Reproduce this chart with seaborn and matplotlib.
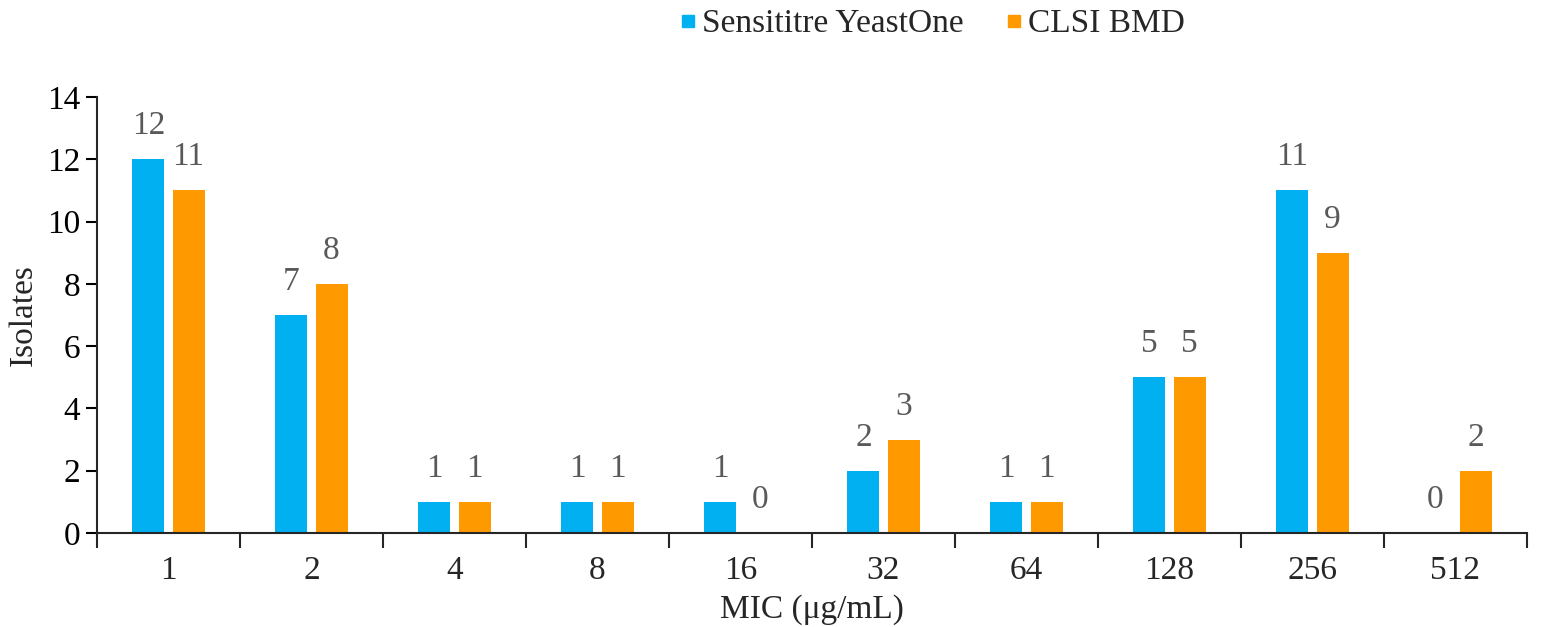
import numpy as np
import pandas as pd
import matplotlib
matplotlib.use("Agg")
import matplotlib.pyplot as plt
from matplotlib.lines import Line2D
from matplotlib.ticker import FixedLocator
import seaborn as sns

MIC = ["1", "2", "4", "8", "16", "32", "64", "128", "256", "512"]
SENSITITRE = [12, 7, 1, 1, 1, 2, 1, 5, 11, 0]
CLSI = [11, 8, 1, 1, 0, 3, 1, 5, 9, 2]
SERIES = ["Sensititre YeastOne", "CLSI BMD"]
COLORS = ["#00B0F0", "#FF9900"]

df = pd.DataFrame({
    "MIC": MIC * 2,
    "Isolates": SENSITITRE + CLSI,
    "Method": [SERIES[0]] * len(MIC) + [SERIES[1]] * len(MIC),
})

sns.set_style("ticks")
plt.rcParams["font.family"] = ["Liberation Serif", "DejaVu Serif"]

fig = plt.figure(figsize=(15.46, 6.27), dpi=100)
ax = fig.add_axes([97 / 1546, 1 - 533 / 627, 1430 / 1546, 436 / 627])

# bars: 32 px wide, 8 px apart inside a 143 px category
sns.barplot(data=df, x="MIC", y="Isolates", hue="Method", order=MIC,
            hue_order=SERIES, palette=COLORS, width=0.56, gap=0.2,
            saturation=1, linewidth=0, legend=False, ax=ax)

for cont in ax.containers:
    for bar in cont:
        h = bar.get_height()
        ax.annotate(f"{int(h)}", (bar.get_x() + bar.get_width() / 2, h),
                    xytext=(0, 18), textcoords="offset points",
                    ha="center", va="baseline", fontsize=24, color="#595959")

ax.set_xlim(-0.5, len(MIC) - 0.5)
ax.set_ylim(0, 14)
ax.set_yticks(range(0, 15, 2))
ax.tick_params(axis="y", labelsize=24, length=8, width=1.5, direction="out",
               pad=4, colors="black")
ax.tick_params(axis="x", which="major", length=0, labelsize=24, pad=16)
ax.xaxis.set_minor_locator(FixedLocator(np.arange(-0.5, len(MIC), 1.0)))
ax.tick_params(axis="x", which="minor", length=11, width=1.5, direction="out")
ax.set_xlabel("MIC (\u03bcg/mL)", fontsize=24, labelpad=6)
ax.set_ylabel("Isolates", fontsize=24, labelpad=6)
for side in ["top", "right"]:
    ax.spines[side].set_visible(False)
for side in ["left", "bottom"]:
    ax.spines[side].set_linewidth(1.5)

handles = [Line2D([], [], marker="s", linestyle="", markersize=9,
                  markerfacecolor=c, markeredgecolor=c) for c in COLORS]
fig.legend(handles, SERIES, loc="center left", bbox_to_anchor=(658 / 1546, 1 - 24 / 627),
           ncol=2, frameon=False, fontsize=24, handletextpad=-0.08,
           columnspacing=1.0, handlelength=1.0, borderaxespad=0)

fig.savefig("out.png", dpi=100)
